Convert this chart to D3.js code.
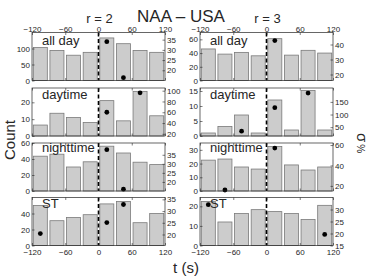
<!DOCTYPE html>
<html>
<head>
<meta charset="utf-8">
<script src="https://cdn.jsdelivr.net/npm/d3@7"></script>
<style>
  body { margin: 0; background: #fff; }
  text { font-family: "Liberation Sans", Arial, sans-serif; fill: #262626; }
</style>
</head>
<body>
<div id="chart"></div>
<script>
// bins of 30 s, given by their start time
const binStarts = [-120, -90, -60, -30, 0, 30, 60, 90];
const xTicks = [-120, -60, 0, 60, 120];
const periods = ['all day', 'daytime', 'nighttime', 'ST'];
const radii = ['r = 2', 'r = 3'];

// r = 2 : counts per bin
const r2AllDay = [103, 94, 79, 88, 133, 115, 94, 88];
const r2Daytime = [6.5, 13.5, 11, 8, 21, 9, 26.5, 12];
const r2Night = [43.5, 46, 30, 36.5, 56, 47.5, 36, 33];
const r2ST = [50, 31, 35, 38.5, 52, 55, 28.5, 40];
// r = 2 : sigma % (dots)
const r2AllDaySig = [null, null, null, null, 34, 16.4, null, null];
const r2DaytimeSig = [null, null, null, null, 60, null, 96, null];
const r2NightSig = [null, null, null, null, 37.8, 16, null, null];
const r2STSig = [20.4, null, null, null, 25.1, 32.8, null, null];

// r = 3 : counts per bin
const r3AllDay = [46, 38.5, 41, 36, 61, 37, 44, 40];
const r3Daytime = [1, 3.2, 7, 1, 12, 2, 15.2, 2];
const r3Night = [22.5, 23.3, 17.5, 16, 32.5, 19, 15.3, 17.5];
const r3ST = [22.5, 12, 16.3, 18.3, 17.3, 16.3, 13.3, 20.5];
// r = 3 : sigma % (dots)
const r3AllDaySig = [null, null, null, null, 42.6, null, null, null];
const r3DaytimeSig = [null, null, 34, null, 127, null, 185, null];
const r3NightSig = [null, 16, null, null, 57, null, null, null];
const r3STSig = [32, null, null, null, null, null, null, 19.6];

// axis limits and ticks, [column][row]
const countLims = [[[0, 150], [0, 28.5], [0, 60], [0, 60]],
                   [[0, 70], [0, 16], [0, 35], [0, 24.5]]];
const countTicks = [[[0, 50, 100], [0, 10, 20], [0, 20, 40, 60], [0, 20, 40]],
                    [[0, 20, 40, 60], [0, 5, 10, 15], [0, 10, 20, 30], [0, 10, 20]]];
const sigLims = [[[15, 38.5], [16, 105], [15, 41.5], [15.3, 35.8]],
                 [[16, 48], [15, 205], [15, 62], [15, 35]]];
const sigTicks = [[[20, 25, 30, 35], [20, 40, 60, 80, 100], [20, 25, 30, 35], [20, 25, 30, 35]],
                  [[20, 30, 40], [50, 100, 150], [20, 40, 60], [15, 20, 25, 30]]];

const counts = [[r2AllDay, r2Daytime, r2Night, r2ST], [r3AllDay, r3Daytime, r3Night, r3ST]];
const sigmas = [[r2AllDaySig, r2DaytimeSig, r2NightSig, r2STSig], [r3AllDaySig, r3DaytimeSig, r3NightSig, r3STSig]];

// layout
const colX = [32, 200], W = 133;
const rowY = [32.5, 88, 143, 197.5], H = 48;
const labelDy = [12, 10.5, 8.5, 10];

const svg = d3.select('#chart').append('svg')
    .attr('width', 374).attr('height', 279);

function styleAxis(g) {
    g.select('.domain').remove();
    g.selectAll('line').attr('stroke', '#262626').attr('stroke-width', 0.6);
    g.selectAll('text').attr('font-size', 8).attr('fill', '#333')
        .style('font-family', '"Liberation Sans", Arial, sans-serif');
}

for (let c = 0; c < 2; c++) {
    for (let r = 0; r < 4; r++) {
        const x0 = colX[c], y0 = rowY[r];
        const x = d3.scaleLinear().domain([-120, 120]).range([x0, x0 + W]);
        const yL = d3.scaleLinear().domain(countLims[c][r]).range([y0 + H, y0]);
        const yR = d3.scaleLinear().domain(sigLims[c][r]).range([y0 + H, y0]);
        const g = svg.append('g');
        const binW = x(30) - x(0), pad = 1.3;

        g.selectAll('rect.bar').data(counts[c][r]).join('rect')
            .attr('class', 'bar')
            .attr('x', (d, i) => x(binStarts[i]) + pad)
            .attr('width', binW - 2 * pad)
            .attr('y', d => yL(d))
            .attr('height', d => yL(0) - yL(d))
            .attr('fill', '#cccccc')
            .attr('stroke', '#7a7a7a')
            .attr('stroke-width', 0.8);

        g.append('line')
            .attr('x1', x(0)).attr('x2', x(0))
            .attr('y1', y0).attr('y2', y0 + H)
            .attr('stroke', '#000').attr('stroke-width', 1.6)
            .attr('stroke-dasharray', '4,2.5');

        const pts = sigmas[c][r].map((s, i) => ({ s, t: binStarts[i] + 15 })).filter(d => d.s !== null);
        g.selectAll('circle').data(pts).join('circle')
            .attr('cx', d => x(d.t))
            .attr('cy', d => yR(d.s))
            .attr('r', 2.4)
            .attr('fill', '#000');

        g.append('text')
            .attr('x', x0 + 10).attr('y', y0 + labelDy[r])
            .attr('font-size', 13)
            .text(periods[r]);

        g.append('rect')
            .attr('x', x0).attr('y', y0).attr('width', W).attr('height', H)
            .attr('fill', 'none').attr('stroke', '#262626').attr('stroke-width', 0.7);

        g.append('g').attr('transform', `translate(${x0},0)`)
            .call(d3.axisLeft(yL).tickValues(countTicks[c][r]).tickSize(-2.5).tickPadding(2))
            .call(styleAxis);
        g.append('g').attr('transform', `translate(${x0 + W},0)`)
            .call(d3.axisRight(yR).tickValues(sigTicks[c][r]).tickSize(-2.5).tickPadding(2))
            .call(styleAxis);

        const top = d3.axisTop(x).tickValues(xTicks).tickSize(-2.5).tickPadding(1);
        if (r > 0) top.tickFormat('');
        g.append('g').attr('transform', `translate(0,${y0})`).call(top).call(styleAxis);

        const bottom = d3.axisBottom(x).tickValues(xTicks).tickSize(-2.5).tickPadding(3.5);
        if (r < 3) bottom.tickFormat('');
        g.append('g').attr('transform', `translate(0,${y0 + H})`).call(bottom).call(styleAxis);
    }
    svg.append('text')
        .attr('x', colX[c] + W / 2 + 1).attr('y', 22.5)
        .attr('text-anchor', 'middle').attr('font-size', 13)
        .text(radii[c]);
}

svg.append('text')
    .attr('x', 181).attr('y', 21.5)
    .attr('text-anchor', 'middle').attr('font-size', 17)
    .text('NAA \u2013 USA');

svg.append('text')
    .attr('transform', 'translate(15,140) rotate(-90)')
    .attr('text-anchor', 'middle').attr('font-size', 15)
    .text('Count');

svg.append('text')
    .attr('transform', 'translate(357,143) rotate(90)')
    .attr('text-anchor', 'middle')
    .call(t => {
        t.append('tspan').attr('font-size', 15).text('\u03c3');
        t.append('tspan').attr('font-size', 10).attr('dx', 2).text('%');
    });

svg.append('text')
    .attr('x', 186).attr('y', 273)
    .attr('text-anchor', 'middle').attr('font-size', 15)
    .text('t (s)');
</script>
</body>
</html>
